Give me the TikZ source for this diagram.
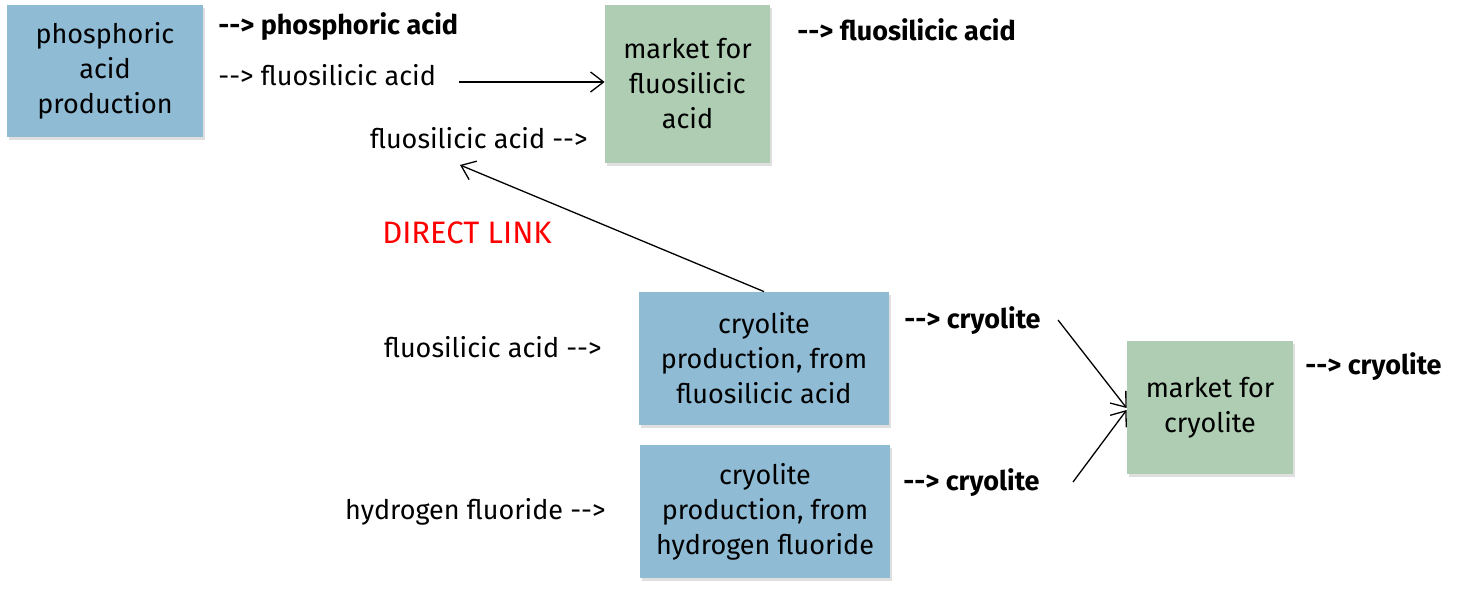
\documentclass[tikz,border=0pt]{standalone}
\usepackage{fontspec}
\setmainfont{Fira Sans}
\usetikzlibrary{shadows,arrows.meta}

\definecolor{procblue}{HTML}{8FBBD5}
\definecolor{mktgreen}{HTML}{AECDB3}

\begin{document}
\begin{tikzpicture}[x=1pt,y=-1pt,thick,
  box/.style={rectangle,align=center,inner sep=0pt,font=\fontsize{27}{35}\selectfont,
    drop shadow={shadow xshift=2pt,shadow yshift=-3pt,opacity=0.25}},
  proc/.style={box,fill=procblue},
  mkt/.style={box,fill=mktgreen},
  lbl/.style={inner sep=0pt,font=\fontsize{27}{30}\selectfont},
  blbl/.style={lbl,font=\fontsize{27}{30}\selectfont\bfseries},
  flow/.style={-{Straight Barb[length=13pt,width=20pt]},line width=1.3pt}]
\useasboundingbox (0,0) rectangle (1477,593);
\node[proc, minimum width=196pt, minimum height=132pt] (P) at (105,71) {phosphoric\\acid\\production};
\node[mkt, minimum width=165pt, minimum height=158pt] (M1) at (687.5,84) {market for\\fluosilicic\\acid};
\node[proc, minimum width=250pt, minimum height=133pt] (C1) at (764,358.5) {cryolite\\production, from\\fluosilicic acid};
\node[proc, minimum width=250pt, minimum height=133pt] (C2) at (765,511.5) {cryolite\\production, from\\hydrogen fluoride};
\node[mkt, minimum width=166pt, minimum height=133pt] (M2) at (1210,407.5) {market for\\cryolite};

\node[blbl, anchor=west] (Pout1) at (218,27) {-{}-> phosphoric acid};
\node[lbl, anchor=west] (Pout2) at (218,75) {-{}-> fluosilicic acid};
\node[blbl, anchor=west] (M1out) at (797,30) {-{}-> fluosilicic acid};
\node[lbl, anchor=east] (M1in) at (588,138) {fluosilicic acid -{}->};
\node[lbl, anchor=east] (C1in) at (602,347) {fluosilicic acid -{}->};
\node[blbl, anchor=west] (C1out) at (904,321) {-{}-> cryolite};
\node[lbl, anchor=east] (C2in) at (606,512) {hydrogen fluoride -{}->};
\node[blbl, anchor=west] (C2out) at (903,483) {-{}-> cryolite};
\node[blbl, anchor=west] (M2out) at (1305,367) {-{}-> cryolite};
\node[lbl, text=red, font=\fontsize{31}{35}\selectfont] (link) at (467,233) {DIRECT LINK};

\coordinate (a1) at (459,82);
\coordinate (a2) at (460,165);
\coordinate (a3) at (1058,320);
\coordinate (a4) at (1073,482);

\draw[flow] (a1) -- (a1 -| M1.west);
\draw[flow] (C1.north) -- (a2);
\draw[flow] (a3) -- (M2.west |- 0,408);
\draw[flow] (a4) -- (M2.west |- 0,410);
\end{tikzpicture}
\end{document}
